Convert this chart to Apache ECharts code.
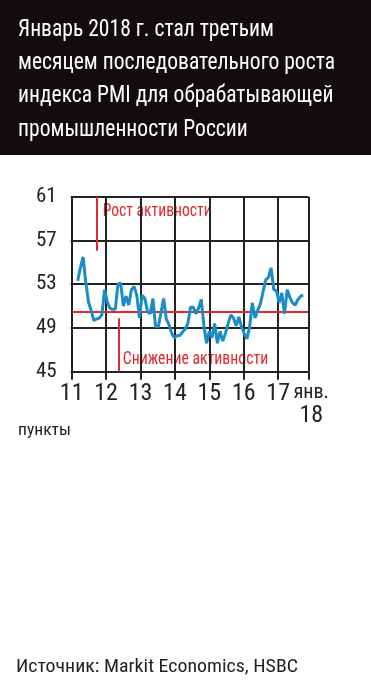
<!DOCTYPE html>
<html><head><meta charset="utf-8">
<script src="https://cdn.jsdelivr.net/npm/echarts@6/dist/echarts.min.js"></script>
<style>html,body{margin:0;padding:0;background:#fff}#c{width:371px;height:684px}</style>
</head><body><div id="c"></div>
<script>
const titleLines = [
  'Январь 2018 г. стал третьим',
  'месяцем последовательного роста',
  'индекса PMI для обрабатывающей',
  'промышленности России'
];
const yTicks = ['45', '49', '53', '57', '61'];
const xTicks = ['11', '12', '13', '14', '15', '16', '17', '{s|янв.}\n{n|18}'];
// Monthly PMI, Jan 2011 .. Jan 2018
const pmi = [
  53.3, 54.5, 55.5, 53.2, 51.4, 50.6, 49.7, 49.8, 49.9, 50.2, 52.5, 51.4,
  50.8, 50.7, 50.7, 53.0, 53.1, 51.0, 51.9, 51.1, 52.5, 52.8, 52.0, 49.9,
  52.0, 51.7, 50.5, 50.3, 51.7, 49.1, 49.1, 50.4, 51.7, 49.8, 49.3, 48.5,
  48.1, 48.3, 48.3, 48.6, 48.9, 49.4, 50.9, 50.9, 50.3, 50.8, 51.6, 49.2,
  47.6, 48.7, 48.1, 49.4, 47.6, 48.7, 47.8, 48.5, 49.4, 50.2, 49.9, 49.2,
  50.0, 49.1, 48.5, 48.0, 49.1, 51.3, 49.9, 50.6, 51.2, 52.3, 53.4, 53.6,
  54.5, 52.5, 52.4, 51.3, 52.2, 50.3, 52.5, 51.8, 51.3, 51.1, 51.6, 51.9,
  52.0
];
const neutralLevel = 50.5;
const unitLabel = 'пункты';
const sourceText = 'Источник: Markit Economics, HSBC';
const upLabel = 'Рост активности';
const downLabel = 'Снижение активности';

const F = "'Roboto Condensed',Roboto,sans-serif";
const DARK = '#222';
const RED = '#e4262d';

// display x-axis slots: 8 slots per year, 7 slots for the last (shorter) span
const xSlots = [];
for (let i = 0; i <= 55; i++) {
  xSlots.push(i === 55 ? xTicks[7] : (i % 8 === 0 ? xTicks[i / 8] : ''));
}
const isTickSlot = (idx, val) => val !== '';

const cv = document.createElement('canvas').getContext('2d');
function mw(text, font){ cv.font = font; return cv.measureText(text).width; }
// condensed text helper (horizontal scale to reference width)
function fitText(text, x, yMid, size, color, targetW) {
  const font = size + 'px ' + F;
  return {type: 'text', x: x, y: yMid, scaleX: targetW / mw(text, font),
    style: {text: text, fill: color, font: font, verticalAlign: 'middle'}};
}
const titleScale = 317 / mw(titleLines[1], '24px ' + F);

const chart = echarts.init(document.getElementById('c'), null, {renderer: 'canvas'});
const option = {
  animation: false,
  grid: {left: 71.7, top: 196.7, width: 236.6, height: 175, show: false},
  xAxis: [
    {
      type: 'category', data: xSlots, boundaryGap: false, position: 'bottom',
      axisLine: {show: false},
      axisTick: {show: true, length: 8, interval: isTickSlot, lineStyle: {color: DARK, width: 2}},
      splitLine: {show: true, interval: isTickSlot, lineStyle: {color: DARK, width: 2}},
      axisLabel: {
        interval: 0, margin: 10, fontSize: 24, lineHeight: 24, color: DARK, fontFamily: F,
        hideOverlap: false,
        rich: {
          s: {fontSize: 20, lineHeight: 22, color: DARK, fontFamily: F, padding: [0, 0, 0, 6]},
          n: {fontSize: 24, lineHeight: 24, color: DARK, fontFamily: F, padding: [0, 0, 0, 6]}
        }
      }
    },
    {type: 'value', min: -2.234, max: 85.862, show: false}
  ],
  yAxis: [
    {
      type: 'category', data: yTicks, boundaryGap: false,
      axisLine: {show: false},
      axisTick: {show: true, length: 7, lineStyle: {color: DARK, width: 2}},
      splitLine: {show: true, lineStyle: {color: DARK, width: 2}},
      axisLabel: {margin: 15, fontSize: 21, color: DARK, fontFamily: F}
    },
    {type: 'value', min: 45, max: 61, show: false}
  ],
  series: [{
    type: 'line', xAxisIndex: 1, yAxisIndex: 1, z: 3,
    data: pmi.map((v, i) => [i, v]),
    showSymbol: false,
    lineStyle: {color: '#1b8dc6', width: 3},
    markLine: {
      silent: true, symbol: 'none', z: 2, label: {show: false},
      lineStyle: {color: RED, width: 2, type: 'solid'},
      data: [
        {yAxis: neutralLevel},
        [{coord: [7.07, 61]}, {coord: [7.07, 56.06]}],
        [{coord: [15.1, 49.88]}, {coord: [15.1, 45]}]
      ]
    }
  }],
  graphic: [
    {type: 'rect', shape: {x: 0, y: 0, width: 371, height: 155}, style: {fill: '#110d0d'}, z: 0},
    ...titleLines.map((t, i) => ({
      type: 'text', x: 18, y: [29.5, 62.6, 96.1, 129.5][i], scaleX: titleScale,
      style: {text: t, fill: '#fff', font: '24px ' + F, verticalAlign: 'middle'}
    })),
    fitText(unitLabel, 18, 431, 17, DARK, 53),
    fitText(sourceText, 16, 667, 19, DARK, 282),
    fitText(upLabel, 102.7, 211, 18, RED, 109),
    fitText(downLabel, 122.7, 359, 18, RED, 145.6)
  ]
};
chart.setOption(option);
</script></body></html>
